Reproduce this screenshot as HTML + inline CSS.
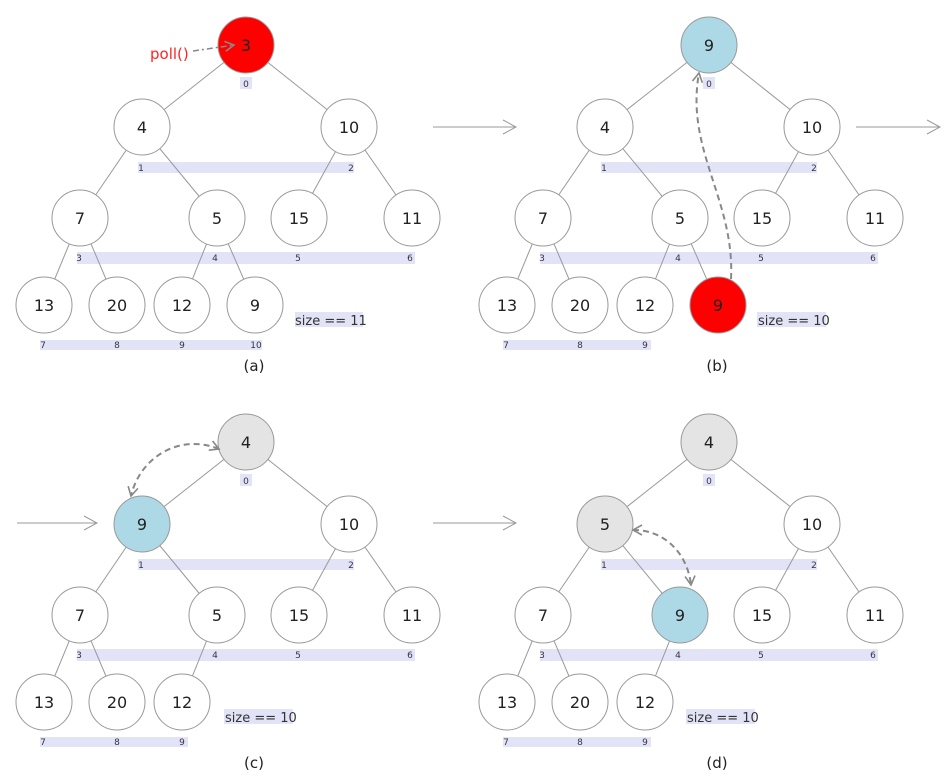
<!DOCTYPE html>
<html><head><meta charset="utf-8"><style>
body{margin:0;background:#fff}
svg{display:block}
text{font-family:"DejaVu Sans","Liberation Sans",sans-serif}
.e{stroke:#999;stroke-width:1}
.n{stroke:#999;stroke-width:1}
.t{font-size:16px;text-anchor:middle;fill:#222}
.i{font-size:9px;text-anchor:middle;fill:#334}
.bar{fill:#e3e3f7}
.cap{font-size:15px;text-anchor:middle;fill:#222}
.sz{font-size:13px;fill:#333}
.dash{fill:none;stroke:#888;stroke-width:2;stroke-dasharray:6,4}
.arr{fill:none;stroke:#999;stroke-width:1}
</style></head><body>
<svg width="949" height="784" viewBox="0 0 949 784" xmlns="http://www.w3.org/2000/svg">
<defs>
<marker id="oh" markerWidth="12" markerHeight="12" refX="10" refY="6" orient="auto" markerUnits="userSpaceOnUse">
<path d="M1,1 L10,6 L1,11" fill="none" stroke="#888" stroke-width="1.6"/></marker>
<marker id="ohs" markerWidth="12" markerHeight="12" refX="2" refY="6" orient="auto" markerUnits="userSpaceOnUse">
<path d="M11,1 L2,6 L11,11" fill="none" stroke="#888" stroke-width="1.6"/></marker>
<marker id="big" markerWidth="16" markerHeight="16" refX="14" refY="8" orient="auto" markerUnits="userSpaceOnUse">
<path d="M1,1 L14,8 L1,15" fill="none" stroke="#999" stroke-width="1"/></marker>
</defs>

<!-- big arrows -->
<line x1="433" y1="127" x2="516" y2="127" class="arr" marker-end="url(#big)"/>
<line x1="856" y1="127" x2="940" y2="127" class="arr" marker-end="url(#big)"/>
<line x1="17" y1="523" x2="97" y2="523" class="arr" marker-end="url(#big)"/>
<line x1="433" y1="523" x2="516" y2="523" class="arr" marker-end="url(#big)"/>

<!-- Panel A -->
<g>
<rect class="bar" x="240" y="77" width="12" height="12"/>
<rect class="bar" x="138" y="162" width="216" height="11"/>
<rect class="bar" x="77" y="252" width="338" height="12"/>
<rect class="bar" x="40" y="340" width="222" height="10"/>
<line class="e" x1="246" y1="45" x2="142" y2="127"/><line class="e" x1="246" y1="45" x2="349" y2="127"/>
<line class="e" x1="142" y1="127" x2="80" y2="218"/><line class="e" x1="142" y1="127" x2="217" y2="218"/>
<line class="e" x1="349" y1="127" x2="299" y2="218"/><line class="e" x1="349" y1="127" x2="412" y2="218"/>
<line class="e" x1="80" y1="218" x2="44" y2="305"/><line class="e" x1="80" y1="218" x2="117" y2="305"/>
<line class="e" x1="217" y1="218" x2="182" y2="305"/><line class="e" x1="217" y1="218" x2="255" y2="305"/>
<circle class="n" cx="246" cy="45" r="28" fill="#ff0000" stroke="#e00"/><text class="t" x="246" y="51">3</text>
<circle class="n" cx="142" cy="127" r="28" fill="#fff"/><text class="t" x="142" y="133">4</text>
<circle class="n" cx="349" cy="127" r="28" fill="#fff"/><text class="t" x="349" y="133">10</text>
<circle class="n" cx="80" cy="218" r="28" fill="#fff"/><text class="t" x="80" y="224">7</text>
<circle class="n" cx="217" cy="218" r="28" fill="#fff"/><text class="t" x="217" y="224">5</text>
<circle class="n" cx="299" cy="218" r="28" fill="#fff"/><text class="t" x="299" y="224">15</text>
<circle class="n" cx="412" cy="218" r="28" fill="#fff"/><text class="t" x="412" y="224">11</text>
<circle class="n" cx="44" cy="305" r="28" fill="#fff"/><text class="t" x="44" y="311">13</text>
<circle class="n" cx="117" cy="305" r="28" fill="#fff"/><text class="t" x="117" y="311">20</text>
<circle class="n" cx="182" cy="305" r="28" fill="#fff"/><text class="t" x="182" y="311">12</text>
<circle class="n" cx="255" cy="305" r="28" fill="#fff"/><text class="t" x="255" y="311">9</text>
<text class="i" x="246" y="87">0</text><text class="i" x="141" y="171">1</text><text class="i" x="351" y="171">2</text>
<text class="i" x="79" y="261">3</text><text class="i" x="215" y="261">4</text><text class="i" x="298" y="261">5</text><text class="i" x="410" y="261">6</text>
<text class="i" x="43" y="348">7</text><text class="i" x="117" y="348">8</text><text class="i" x="182" y="348">9</text><text class="i" x="256" y="348">10</text>
<rect class="bar" x="295" y="312" width="68" height="15"/><text class="sz" x="295" y="325">size == 11</text>
<text class="cap" x="254" y="371">(a)</text>
<text x="150" y="59" style="font-size:15px;fill:#f22">poll()</text>
<line x1="193" y1="51" x2="234" y2="45" stroke="#888" stroke-width="1.5" stroke-dasharray="6,3,2,3" marker-end="url(#oh)"/>
</g>

<!-- Panel B -->
<g transform="translate(463,0)">
<rect class="bar" x="240" y="77" width="12" height="12"/>
<rect class="bar" x="138" y="162" width="216" height="11"/>
<rect class="bar" x="77" y="252" width="338" height="12"/>
<rect class="bar" x="40" y="340" width="148" height="10"/>
<line class="e" x1="246" y1="45" x2="142" y2="127"/><line class="e" x1="246" y1="45" x2="349" y2="127"/>
<line class="e" x1="142" y1="127" x2="80" y2="218"/><line class="e" x1="142" y1="127" x2="217" y2="218"/>
<line class="e" x1="349" y1="127" x2="299" y2="218"/><line class="e" x1="349" y1="127" x2="412" y2="218"/>
<line class="e" x1="80" y1="218" x2="44" y2="305"/><line class="e" x1="80" y1="218" x2="117" y2="305"/>
<line class="e" x1="217" y1="218" x2="182" y2="305"/><line class="e" x1="217" y1="218" x2="255" y2="305"/>
<circle class="n" cx="246" cy="45" r="28" fill="#add8e6"/><text class="t" x="246" y="51">9</text>
<circle class="n" cx="142" cy="127" r="28" fill="#fff"/><text class="t" x="142" y="133">4</text>
<circle class="n" cx="349" cy="127" r="28" fill="#fff"/><text class="t" x="349" y="133">10</text>
<circle class="n" cx="80" cy="218" r="28" fill="#fff"/><text class="t" x="80" y="224">7</text>
<circle class="n" cx="217" cy="218" r="28" fill="#fff"/><text class="t" x="217" y="224">5</text>
<circle class="n" cx="299" cy="218" r="28" fill="#fff"/><text class="t" x="299" y="224">15</text>
<circle class="n" cx="412" cy="218" r="28" fill="#fff"/><text class="t" x="412" y="224">11</text>
<circle class="n" cx="44" cy="305" r="28" fill="#fff"/><text class="t" x="44" y="311">13</text>
<circle class="n" cx="117" cy="305" r="28" fill="#fff"/><text class="t" x="117" y="311">20</text>
<circle class="n" cx="182" cy="305" r="28" fill="#fff"/><text class="t" x="182" y="311">12</text>
<circle class="n" cx="255" cy="305" r="28" fill="#ff0000" stroke="#e00"/><text class="t" x="255" y="311">9</text>
<text class="i" x="246" y="87">0</text><text class="i" x="141" y="171">1</text><text class="i" x="351" y="171">2</text>
<text class="i" x="79" y="261">3</text><text class="i" x="215" y="261">4</text><text class="i" x="298" y="261">5</text><text class="i" x="410" y="261">6</text>
<text class="i" x="43" y="348">7</text><text class="i" x="117" y="348">8</text><text class="i" x="182" y="348">9</text>
<rect class="bar" x="294" y="312" width="69" height="15"/><text class="sz" x="295" y="325">size == 10</text>
<text class="cap" x="254" y="371">(b)</text>
<path class="dash" d="M268,279 C272,200 222,150 236,73" marker-end="url(#oh)"/>
</g>

<!-- Panel C -->
<g transform="translate(0,397)">
<rect class="bar" x="240" y="77" width="12" height="12"/>
<rect class="bar" x="138" y="162" width="216" height="11"/>
<rect class="bar" x="77" y="252" width="338" height="12"/>
<rect class="bar" x="40" y="340" width="148" height="10"/>
<line class="e" x1="246" y1="45" x2="142" y2="127"/><line class="e" x1="246" y1="45" x2="349" y2="127"/>
<line class="e" x1="142" y1="127" x2="80" y2="218"/><line class="e" x1="142" y1="127" x2="217" y2="218"/>
<line class="e" x1="349" y1="127" x2="299" y2="218"/><line class="e" x1="349" y1="127" x2="412" y2="218"/>
<line class="e" x1="80" y1="218" x2="44" y2="305"/><line class="e" x1="80" y1="218" x2="117" y2="305"/>
<line class="e" x1="217" y1="218" x2="182" y2="305"/>
<circle class="n" cx="246" cy="45" r="28" fill="#e4e4e4"/><text class="t" x="246" y="51">4</text>
<circle class="n" cx="142" cy="127" r="28" fill="#add8e6"/><text class="t" x="142" y="133">9</text>
<circle class="n" cx="349" cy="127" r="28" fill="#fff"/><text class="t" x="349" y="133">10</text>
<circle class="n" cx="80" cy="218" r="28" fill="#fff"/><text class="t" x="80" y="224">7</text>
<circle class="n" cx="217" cy="218" r="28" fill="#fff"/><text class="t" x="217" y="224">5</text>
<circle class="n" cx="299" cy="218" r="28" fill="#fff"/><text class="t" x="299" y="224">15</text>
<circle class="n" cx="412" cy="218" r="28" fill="#fff"/><text class="t" x="412" y="224">11</text>
<circle class="n" cx="44" cy="305" r="28" fill="#fff"/><text class="t" x="44" y="311">13</text>
<circle class="n" cx="117" cy="305" r="28" fill="#fff"/><text class="t" x="117" y="311">20</text>
<circle class="n" cx="182" cy="305" r="28" fill="#fff"/><text class="t" x="182" y="311">12</text>
<text class="i" x="246" y="87">0</text><text class="i" x="141" y="171">1</text><text class="i" x="351" y="171">2</text>
<text class="i" x="79" y="261">3</text><text class="i" x="215" y="261">4</text><text class="i" x="298" y="261">5</text><text class="i" x="410" y="261">6</text>
<text class="i" x="43" y="348">7</text><text class="i" x="117" y="348">8</text><text class="i" x="182" y="348">9</text>
<rect class="bar" x="224" y="312" width="69" height="15"/><text class="sz" x="225" y="325">size == 10</text>
<text class="cap" x="254" y="371">(c)</text>
<path class="dash" d="M219,52 C180,36 140,60 131,99" marker-start="url(#ohs)" marker-end="url(#oh)"/>
</g>

<!-- Panel D -->
<g transform="translate(463,397)">
<rect class="bar" x="240" y="77" width="12" height="12"/>
<rect class="bar" x="138" y="162" width="216" height="11"/>
<rect class="bar" x="77" y="252" width="338" height="12"/>
<rect class="bar" x="40" y="340" width="148" height="10"/>
<line class="e" x1="246" y1="45" x2="142" y2="127"/><line class="e" x1="246" y1="45" x2="349" y2="127"/>
<line class="e" x1="142" y1="127" x2="80" y2="218"/><line class="e" x1="142" y1="127" x2="217" y2="218"/>
<line class="e" x1="349" y1="127" x2="299" y2="218"/><line class="e" x1="349" y1="127" x2="412" y2="218"/>
<line class="e" x1="80" y1="218" x2="44" y2="305"/><line class="e" x1="80" y1="218" x2="117" y2="305"/>
<line class="e" x1="217" y1="218" x2="182" y2="305"/>
<circle class="n" cx="246" cy="45" r="28" fill="#e4e4e4"/><text class="t" x="246" y="51">4</text>
<circle class="n" cx="142" cy="127" r="28" fill="#e4e4e4"/><text class="t" x="142" y="133">5</text>
<circle class="n" cx="349" cy="127" r="28" fill="#fff"/><text class="t" x="349" y="133">10</text>
<circle class="n" cx="80" cy="218" r="28" fill="#fff"/><text class="t" x="80" y="224">7</text>
<circle class="n" cx="217" cy="218" r="28" fill="#add8e6"/><text class="t" x="217" y="224">9</text>
<circle class="n" cx="299" cy="218" r="28" fill="#fff"/><text class="t" x="299" y="224">15</text>
<circle class="n" cx="412" cy="218" r="28" fill="#fff"/><text class="t" x="412" y="224">11</text>
<circle class="n" cx="44" cy="305" r="28" fill="#fff"/><text class="t" x="44" y="311">13</text>
<circle class="n" cx="117" cy="305" r="28" fill="#fff"/><text class="t" x="117" y="311">20</text>
<circle class="n" cx="182" cy="305" r="28" fill="#fff"/><text class="t" x="182" y="311">12</text>
<text class="i" x="246" y="87">0</text><text class="i" x="141" y="171">1</text><text class="i" x="351" y="171">2</text>
<text class="i" x="79" y="261">3</text><text class="i" x="215" y="261">4</text><text class="i" x="298" y="261">5</text><text class="i" x="410" y="261">6</text>
<text class="i" x="43" y="348">7</text><text class="i" x="117" y="348">8</text><text class="i" x="182" y="348">9</text>
<rect class="bar" x="223" y="312" width="69" height="15"/><text class="sz" x="224" y="325">size == 10</text>
<text class="cap" x="254" y="371">(d)</text>
<path class="dash" d="M170,133 C205,133 225,160 228,188" marker-start="url(#ohs)" marker-end="url(#oh)"/>
</g>
</svg>
</body></html>
